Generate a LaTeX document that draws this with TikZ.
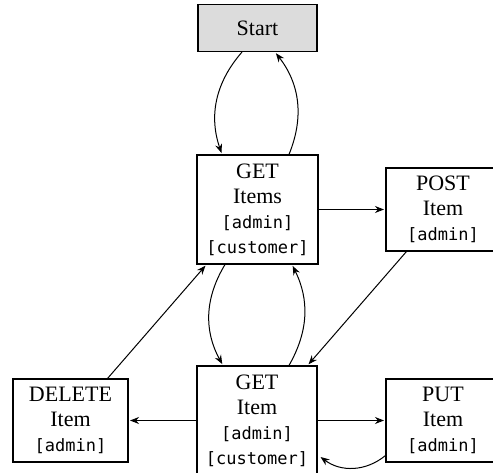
\documentclass[tikz,border=0pt]{standalone}
\usepackage{fontspec}
\setmainfont{Liberation Serif}
\setmonofont{DejaVu Sans Mono}
\usetikzlibrary{arrows.meta}
\definecolor{startgray}{RGB}{220,220,220}
\newcommand{\rl}[1]{{\ttfamily\fontsize{17}{25}\selectfont #1}}
\tikzset{
  box/.style={draw, line width=1.1pt, inner sep=0pt, align=center,
    font=\fontsize{22}{25}\selectfont},
  edge/.style={line width=1pt, shorten >=1.5pt, -{Stealth[length=9pt,width=7pt,inset=3pt]}},
}
\begin{document}
\begin{tikzpicture}[x=1pt,y=-1pt]
\useasboundingbox (0,0) rectangle (493,473);
\clip (0,0) rectangle (493,473);
\node[box, fill=startgray, minimum width=119pt, minimum height=47pt] (start) at (257.5,28) {Start};
\node[box, minimum width=121pt, minimum height=109pt] (getitems) at (257.5,209.5) {GET\\Items\\\rl{[admin]}\\\rl{[customer]}};
\node[box, minimum width=114pt, minimum height=83pt] (post) at (443,209.5) {POST\\Item\\\rl{[admin]}};
\node[box, minimum width=115pt, minimum height=83pt] (delete) at (70.5,420.5) {DELETE\\Item\\\rl{[admin]}};
\node[box, minimum width=120pt, minimum height=109pt] (getitem) at (257,420.5) {GET\\Item\\\rl{[admin]}\\\rl{[customer]}};
\node[box, minimum width=114pt, minimum height=83pt] (put) at (443,420.5) {PUT\\Item\\\rl{[admin]}};

\draw[edge] ([xshift=-15.5pt]start.south) to[bend right=30] ([xshift=-35.5pt]getitems.north);
\draw[edge] ([xshift=31.5pt]getitems.north) to[bend right=30] ([xshift=17.5pt]start.south);
\draw[edge] ([xshift=-32.5pt]getitems.south) to[bend right=30] ([xshift=-34pt]getitem.north);
\draw[edge] ([xshift=32pt]getitem.north) to[bend right=28] ([xshift=34.5pt]getitems.south);
\draw[edge] (getitems.east) -- (post.west);
\draw[edge] ([xshift=21pt]post.south west) -- ([xshift=-10pt]getitem.north east);
\draw[edge] ([xshift=-21pt]delete.north east) -- ([xshift=10pt]getitems.south west);
\draw[edge] (getitem.west) -- (delete.east);
\draw[edge] (getitem.east) -- (put.west);
\draw[edge, shorten >=0pt] ([yshift=7pt]put.south west) to[bend left=38] ([xshift=3pt,yshift=-36.5pt]getitem.east);
\end{tikzpicture}
\end{document}
